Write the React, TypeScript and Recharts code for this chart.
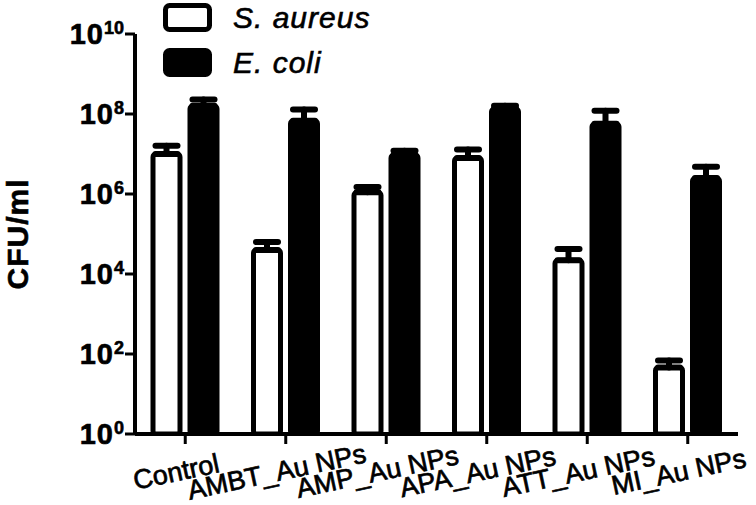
import { BarChart, Bar, XAxis, YAxis, ErrorBar, Legend } from 'recharts';

const categories = ['Control', 'AMBT_Au NPs', 'AMP_Au NPs', 'APA_Au NPs', 'ATT_Au NPs', 'MI_Au NPs'];
const seriesNames = ['S. aureus', 'E. coli'];
const sAureus = [1.0e7, 4.0e4, 1.1e6, 8.0e6, 2.2e4, 46];
const sAureusUpper = [1.6e7, 6.3e4, 1.5e6, 1.3e7, 4.2e4, 69];
const eColi = [1.6e8, 6.8e7, 9.5e6, 1.35e8, 5.7e7, 2.5e6];
const eColiUpper = [2.3e8, 1.3e8, 1.2e7, 1.6e8, 1.2e8, 4.8e6];
const yTicks = [1, 1e2, 1e4, 1e6, 1e8, 1e10];

const data = categories.map((name, i) => ({
  name,
  sAureus: sAureus[i],
  sErr: [0, sAureusUpper[i] - sAureus[i]],
  eColi: eColi[i],
  eErr: [0, eColiUpper[i] - eColi[i]],
}));

const FONT = '"Liberation Sans", Arial, Helvetica, sans-serif';

const YTick = (props: any) => {
  const { x, y, payload } = props;
  const exp = Math.round(Math.log10(payload.value));
  return (
    <text
      x={x + 1}
      y={y + 10}
      textAnchor="end"
      fontFamily={FONT}
      fontWeight="bold"
      fill="#000"
      stroke="#000"
      strokeWidth={0.6}
    >
      <tspan fontSize={29} letterSpacing={1}>10</tspan>
      <tspan fontSize={18} dy={-10}>{exp}</tspan>
    </text>
  );
};

const XTick = (props: any) => {
  const { x, payload } = props;
  const cx = x - 9;
  const cy = 472;
  return (
    <text
      x={cx}
      y={cy}
      dy={9}
      textAnchor="middle"
      fontFamily={FONT}
      fontSize={27}
      fill="#000"
      stroke="#000"
      strokeWidth={0.7}
      transform={`rotate(-12 ${cx} ${cy})`}
    >
      {payload.value}
    </text>
  );
};

const YLabel = () => (
  <text
    x={28}
    y={234}
    textAnchor="middle"
    fontFamily={FONT}
    fontSize={30}
    fontWeight="bold"
    letterSpacing={1}
    fill="#000"
    stroke="#000"
    strokeWidth={0.6}
    transform="rotate(-90 28 234)"
  >
    CFU/ml
  </text>
);

const renderLegend = (props: any) => {
  const payload = [...props.payload].sort(
    (a: any, b: any) => seriesNames.indexOf(a.value) - seriesNames.indexOf(b.value)
  );
  return (
    <svg width={400} height={85} style={{ display: 'block' }}>
      {payload.map((entry: any, i: number) => (
        <g key={entry.value}>
          <rect
            x={165.5}
            y={5.5 + i * 45}
            width={44}
            height={24}
            rx={4}
            fill={entry.color}
            stroke="#000"
            strokeWidth={5}
          />
          <text
            x={233}
            y={28 + i * 45}
            fontFamily={FONT}
            fontSize={30}
            fontStyle="italic"
            letterSpacing={1}
            fill="#000"
            stroke="#000"
            strokeWidth={0.6}
          >
            {entry.value}
          </text>
        </g>
      ))}
    </svg>
  );
};

export default function App() {
  return (
    <div style={{ position: 'absolute', left: 0, top: 0, background: '#fff' }}>
      <BarChart
        width={756}
        height={505}
        data={data}
        margin={{ top: 34, right: 18, bottom: 0, left: 0 }}
        barSize={27}
        barGap={10}
      >
        <XAxis
          dataKey="name"
          axisLine={{ stroke: '#000', strokeWidth: 4 }}
          tickLine={{ stroke: '#000', strokeWidth: 3 }}
          tickSize={10}
          height={71}
          interval={0}
          tick={<XTick />}
        />
        <YAxis
          scale="log"
          domain={[1, 1e10]}
          allowDataOverflow
          ticks={yTicks}
          width={135}
          axisLine={{ stroke: '#000', strokeWidth: 4 }}
          tickLine={{ stroke: '#000', strokeWidth: 3 }}
          tickSize={10}
          tick={<YTick />}
          label={<YLabel />}
        />
        <Legend
          verticalAlign="middle"
          content={renderLegend}
          wrapperStyle={{ top: 0, left: 0, width: 400, height: 85 }}
        />
        <Bar
          dataKey="sAureus"
          name={seriesNames[0]}
          fill="#fff"
          stroke="#000"
          strokeWidth={5}
          radius={3}
          isAnimationActive={false}
        >
          <ErrorBar
            dataKey="sErr"
            width={11}
            stroke="#000"
            strokeWidth={6}
            strokeLinecap="round"
            isAnimationActive={false}
          />
        </Bar>
        <Bar
          dataKey="eColi"
          name={seriesNames[1]}
          fill="#000"
          stroke="#000"
          strokeWidth={5}
          radius={3}
          isAnimationActive={false}
        >
          <ErrorBar
            dataKey="eErr"
            width={11}
            stroke="#000"
            strokeWidth={6}
            strokeLinecap="round"
            isAnimationActive={false}
          />
        </Bar>
      </BarChart>
    </div>
  );
}
